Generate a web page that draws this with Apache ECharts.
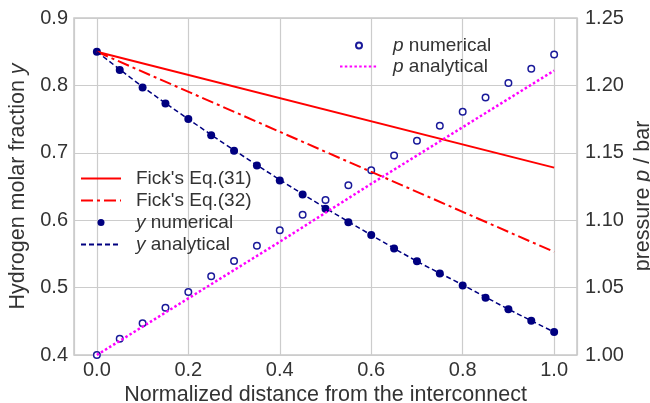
<!DOCTYPE html>
<html>
<head>
<meta charset="utf-8">
<script src="https://cdn.jsdelivr.net/npm/echarts@6/dist/echarts.min.js"></script>
<style>
html,body{margin:0;padding:0;background:#fff;}
#chart{width:650px;height:403px;}
</style>
</head>
<body>
<div id="chart"></div>
<script>
// grid positions along the channel
var xNum = [0, 0.05, 0.1, 0.15, 0.2, 0.25, 0.3, 0.35, 0.4, 0.45, 0.5,
	0.55, 0.6, 0.65, 0.7, 0.75, 0.8, 0.85, 0.9, 0.95, 1.0];
var yNumerical = [0.850, 0.823, 0.797, 0.773, 0.750, 0.726, 0.703, 0.681, 0.659, 0.638, 0.617,
	0.597, 0.578, 0.558, 0.539, 0.521, 0.503, 0.485, 0.468, 0.451, 0.434];
var pNumerical = [1.000, 1.012, 1.0235, 1.035, 1.0467, 1.0584, 1.0697, 1.081, 1.0925, 1.104, 1.115,
	1.126, 1.137, 1.148, 1.159, 1.170, 1.1805, 1.191, 1.2017, 1.2124, 1.223];

var xAna = [0, 0.1, 0.2, 0.3, 0.4, 0.5, 0.6, 0.7, 0.8, 0.9, 1.0];
var yAnalytical = [0.850, 0.798, 0.750, 0.704, 0.660, 0.618, 0.578, 0.539, 0.504, 0.468, 0.434];
var pAnalytical = [1.000, 1.021, 1.042, 1.063, 1.084, 1.1055, 1.127, 1.148, 1.169, 1.190, 1.211];

var xLine = [0, 1.0];
var fick31 = [0.850, 0.678];
var fick32 = [0.850, 0.553];

var xTicks = [0.0, 0.2, 0.4, 0.6, 0.8, 1.0];

function pairs(xs, ys){
	var out = [];
	for(var i=0;i<xs.length;i++){
		out.push([xs[i], ys[i]]);
	}
	return out;
}

var textColor = "#333333";
var gridColor = "#cccccc";
var font = "Liberation Sans, Arial, sans-serif";
// small circle inside a box the size of the legend item
var dotIcon = "path://M0,0M40,0M40,14M0,14M0,0M16.5,7a3.5,3.5 0 1,0 7,0a3.5,3.5 0 1,0 -7,0Z";
var ringIcon = "path://M0,0M38,0M38,14M0,14M0,0M16,7a3,3 0 1,0 6,0a3,3 0 1,0 -6,0Z";
// hide the symbol that line legends draw in the middle
var noSymbol = {color: "rgba(0,0,0,0)", borderColor: "rgba(0,0,0,0)", borderWidth: 0, opacity: 0};

function legendFmt(name){
	if(name.charAt(1) == " " && (name.charAt(0) == "y" || name.charAt(0) == "p")){
		return "{i|" + name.charAt(0) + "}" + name.substring(1);
	}
	return name;
}
var legendText = {
	color: textColor, fontSize: 19, fontFamily: font, padding: [0,0,0,10],
	rich: { i: { fontStyle: "italic", fontSize: 19, fontFamily: font, color: textColor } }
};
var nameSize = 21.5;
var italicRich = {i: {fontStyle: "italic", fontSize: nameSize, fontFamily: font, color: textColor}};
var nameStyle = {color: textColor, fontSize: nameSize, fontFamily: font, rich: italicRich};

var chart = echarts.init(document.getElementById("chart"), null, {renderer: "canvas"});
chart.setOption({
	animation: false,
	backgroundColor: "#ffffff",
	grid: {
		left: 74, right: 73, top: 18, bottom: 48,
		show: true, borderColor: "#c8c8c8", borderWidth: 1.5,
		containLabel: false, outerBoundsMode: "none"
	},
	// right axis title, placed by hand since the axis name gets pushed off the edge
	graphic: [{
		type: "text", x: 643, y: 196, rotation: Math.PI / 2,
		style: {
			text: "pressure {i|p} / bar", fill: textColor,
			font: nameSize + "px " + font, fontSize: nameSize, fontFamily: font,
			align: "center", verticalAlign: "middle", rich: italicRich
		}
	}],
	legend: [{
		left: 80, top: 169, orient: "vertical", padding: 0,
		itemWidth: 40, itemHeight: 14, itemGap: 3,
		data: [
			{name: "Fick's Eq.(31)", itemStyle: noSymbol},
			{name: "Fick's Eq.(32)", itemStyle: noSymbol},
			{name: "y numerical", icon: dotIcon},
			{name: "y analytical", itemStyle: noSymbol}
		],
		formatter: legendFmt, textStyle: legendText
	},{
		left: 339, top: 36, orient: "vertical", padding: 0,
		itemWidth: 38, itemHeight: 14, itemGap: 2,
		data: [
			{name: "p numerical", icon: ringIcon},
			{name: "p analytical", itemStyle: noSymbol}
		],
		formatter: legendFmt, textStyle: legendText
	}],
	xAxis: {
		type: "value", min: -0.05, max: 1.05, splitNumber: 5,
		name: "Normalized distance from the interconnect",
		nameLocation: "middle", nameGap: 29, nameMoveOverlap: false,
		nameTextStyle: nameStyle,
		axisLine: {show: false}, axisTick: {show: false},
		axisLabel: {
			color: textColor, fontSize: 20, fontFamily: font, margin: 5,
			showMinLabel: false, showMaxLabel: false,
			formatter: function(v){
				for(var i=0;i<xTicks.length;i++){
					if(Math.abs(v - xTicks[i]) < 1e-6) return xTicks[i].toFixed(1);
				}
				return "";
			}
		},
		splitLine: {show: true, lineStyle: {color: gridColor, width: 1.2}}
	},
	yAxis: [{
		type: "value", min: 0.4, max: 0.9, interval: 0.1, position: "left",
		name: "Hydrogen molar fraction {i|y}",
		nameLocation: "middle", nameGap: 45, nameRotate: 90, nameMoveOverlap: false,
		nameTextStyle: nameStyle,
		axisLine: {show: false}, axisTick: {show: false},
		axisLabel: {color: textColor, fontSize: 20, fontFamily: font, margin: 6,
			formatter: function(v){ return v.toFixed(1); }},
		splitLine: {show: true, lineStyle: {color: gridColor, width: 1.2}}
	},{
		type: "value", min: 1.0, max: 1.25, interval: 0.05, position: "right",
		axisLine: {show: false}, axisTick: {show: false},
		axisLabel: {color: textColor, fontSize: 20, fontFamily: font, margin: 8,
			formatter: function(v){ return v.toFixed(2); }},
		splitLine: {show: false}
	}],
	series: [{
		name: "Fick's Eq.(31)", type: "line", yAxisIndex: 0,
		data: pairs(xLine, fick31), showSymbol: false, symbol: "none",
		lineStyle: {color: "#ff0000", width: 2}, itemStyle: {color: "#ff0000"}
	},{
		name: "Fick's Eq.(32)", type: "line", yAxisIndex: 0,
		data: pairs(xLine, fick32), showSymbol: false, symbol: "none",
		lineStyle: {color: "#ff0000", width: 2, type: [12, 4, 3, 4]}, itemStyle: {color: "#ff0000"}
	},{
		name: "y analytical", type: "line", yAxisIndex: 0,
		data: pairs(xAna, yAnalytical), showSymbol: false, symbol: "none", smooth: 0.3,
		lineStyle: {color: "#000080", width: 1.5, type: [5, 3]}, itemStyle: {color: "#000080"}
	},{
		name: "y numerical", type: "scatter", yAxisIndex: 0,
		data: pairs(xNum, yNumerical), symbol: "circle", symbolSize: 8,
		itemStyle: {color: "#000080", opacity: 1}
	},{
		name: "p analytical", type: "line", yAxisIndex: 1,
		data: pairs(xAna, pAnalytical), showSymbol: false, symbol: "none",
		lineStyle: {color: "#ff00ff", width: 2.5, type: [2.5, 2.3]}, itemStyle: {color: "#ff00ff"}
	},{
		name: "p numerical", type: "scatter", yAxisIndex: 1,
		data: pairs(xNum, pNumerical), symbol: "circle", symbolSize: 6.5,
		itemStyle: {color: "#ffffff", borderColor: "#1a1a9a", borderWidth: 1.5, opacity: 1}
	}]
});
</script>
</body>
</html>
